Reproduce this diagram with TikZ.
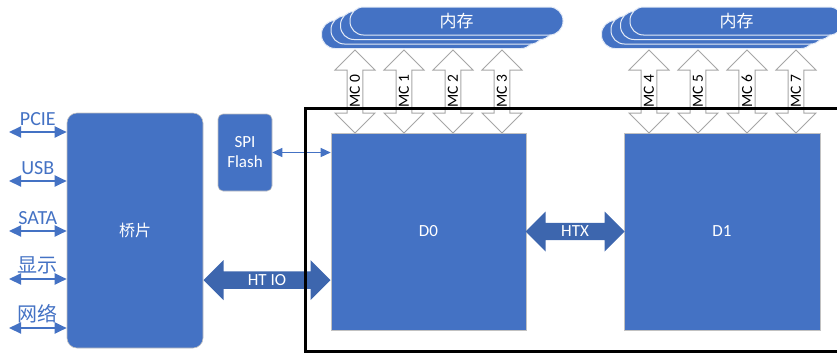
\documentclass[tikz,border=0pt]{standalone}
\usepackage{fontspec}
\setmainfont{Carlito}
\newfontfamily\cjk{Noto Sans CJK SC}
\usetikzlibrary{arrows.meta, shapes.arrows, calc}

\definecolor{chipblue}{HTML}{4472C4}
\definecolor{linkblue}{HTML}{3D66AE}
\definecolor{edgegray}{HTML}{A6A6A6}

\begin{document}
\begin{tikzpicture}[x=1pt, y=-1pt,
        chip/.style={draw=edgegray!70, fill=chipblue, text=white, line width=0.6pt,
          font=\fontsize{17}{20}\selectfont},
        mempill/.style={draw=white!85!chipblue, fill=chipblue, line width=1pt, rounded corners=13.5pt,
          minimum width=213pt, minimum height=28pt, text=white, font=\fontsize{17}{20}\selectfont},
        linkarrow/.style={double arrow, double arrow head extend=10pt, minimum width=40pt,
          fill=linkblue, text=white, inner sep=2pt, font=\fontsize{17}{20}\selectfont},
        mcarrow/.style={double arrow, double arrow head extend=10pt, minimum width=40pt,
          minimum height=83pt, draw=edgegray, fill=white, line width=1pt, rotate=90,
          inner sep=1pt, font=\fontsize{15.5}{18}\selectfont},
        iolink/.style={{Triangle[length=12pt,width=11pt]}-{Triangle[length=12pt,width=11pt]},
          draw=chipblue, line width=2pt},
        spilink/.style={{Triangle[length=10pt,width=9pt]}-{Triangle[length=10pt,width=9pt]},
          draw=chipblue, line width=1.3pt}]

        \clip (0,0) rectangle (837,354);

        % chips
        \node[chip, rounded corners=10pt, minimum width=136pt, minimum height=235pt] (bridge) at (135,230.5) {\cjk\fontsize{16}{19}\selectfont 桥片};
        \node[chip, rounded corners=5pt, minimum width=54pt, minimum height=77pt, align=center] (flash) at (245,152.5) {SPI\\Flash};
        \node[chip, minimum width=195pt, minimum height=197pt] (D0) at (428.5,231.5) {D0};
        \node[chip, minimum width=196pt, minimum height=197pt] (D1) at (722,231.5) {D1};

        % memory stacks
        \foreach \k in {3,2,1}
          \node[mempill] at ($(456.5,21)+(-9.5*\k,4.5*\k)$) {};
        \node[mempill] (memA) at (456.5,21) {\cjk 内存};
        \foreach \k in {3,2,1}
          \node[mempill] at ($(736.5,21)+(-9.5*\k,4.5*\k)$) {};
        \node[mempill] (memB) at (736.5,21) {\cjk 内存};

        % memory channels
        \foreach \x/\n in {355/0,404/1,453/2,502/3,649/4,698/5,747/6,796/7}
          \node[mcarrow] (mc\n) at (\x,91.5) {MC \n};

        % io ports
        \foreach \lab/\y [count=\i] in {PCIE/132, USB/181, SATA/231, {\cjk 显示}/279, {\cjk 网络}/328} {
          \coordinate (port\i) at (9,\y);
          \draw[iolink] (port\i) -- (port\i -| bridge.west)
            node[midway, anchor=base, yshift=6.5pt, inner sep=0pt, text=chipblue, font=\fontsize{20}{24}\selectfont] {\lab};
        }

        % links
        \draw[spilink] (flash.east) -- (flash.east -| D0.west);
        \node[linkarrow, minimum height=127pt] (htio) at ($(bridge.east |- 0,280)!0.5!(D0.west |- 0,280)$) {HT IO};
        \node[linkarrow, minimum height=99pt] (htx) at ($(D0.east)!0.5!(D1.west)$) {HTX};

        % package frame
        \draw[line width=3pt] (840,108) -- (305,108) -- (305,351) -- (840,351);

      \end{tikzpicture}
\end{document}
